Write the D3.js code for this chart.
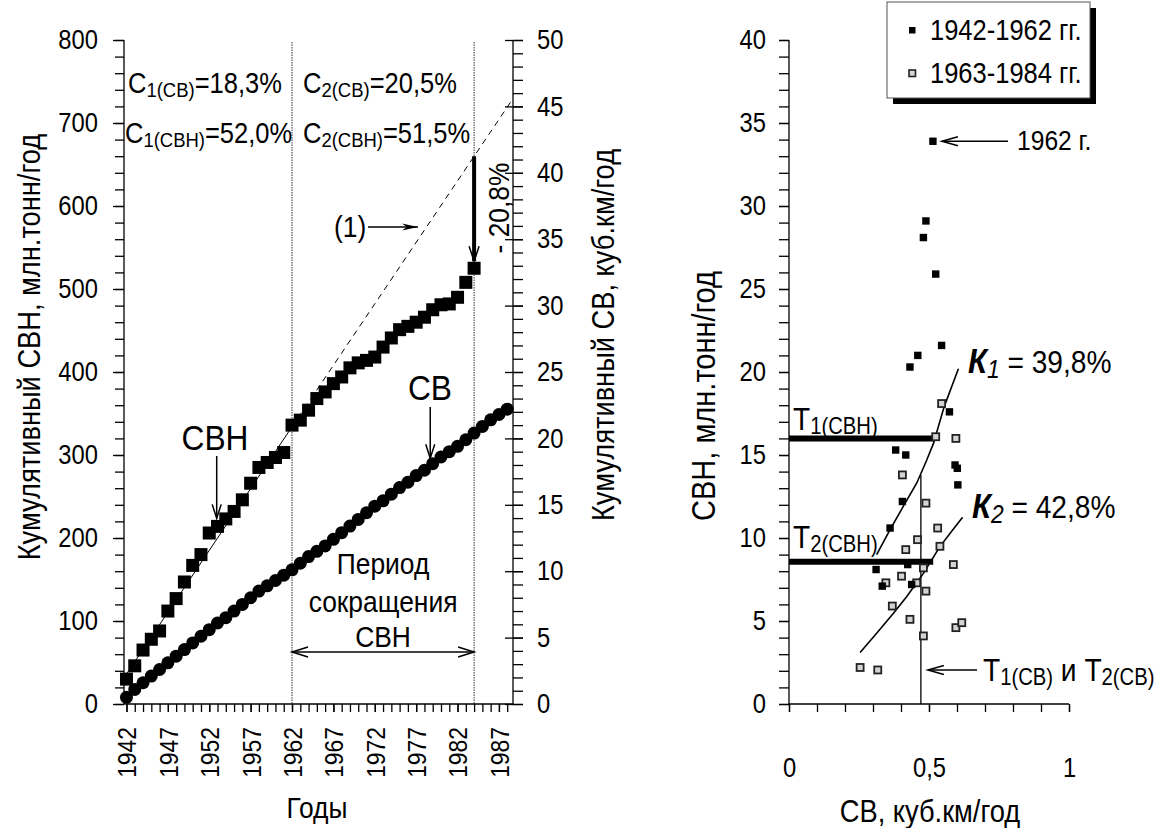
<!DOCTYPE html>
<html><head><meta charset="utf-8">
<script src="https://cdn.jsdelivr.net/npm/d3@7"></script>
<style>
body{margin:0;background:#fff}
svg text{font-family:"Liberation Sans Narrow","Arial Narrow","Liberation Sans",Arial,sans-serif;fill:#000}
</style></head><body>
<svg id="c" width="1170" height="828"></svg>
<script>
// ---------- DATA ----------
const yearsSVN = [1942,1943,1944,1945,1946,1947,1948,1949,1950,1951,1952,1953,1954,1955,1956,1957,1958,1959,1960,1961,1962,1963,1964,1965,1966,1967,1968,1969,1970,1971,1972,1973,1974,1975,1976,1977,1978,1979,1980,1981,1982,1983,1984];
const cumSVN = [30,46,65,78,88,112,127,147,167,180,206,214,223,232,246,266,285,291,297,303,336,342,354,368,376,386,394,405,411,414,418,430,441,451,455,460,466,475,481,482,490,508,525];
const yearsCB = [1942,1943,1944,1945,1946,1947,1948,1949,1950,1951,1952,1953,1954,1955,1956,1957,1958,1959,1960,1961,1962,1963,1964,1965,1966,1967,1968,1969,1970,1971,1972,1973,1974,1975,1976,1977,1978,1979,1980,1981,1982,1983,1984,1985,1986,1987,1988];
const cumCB = [0.5,1.1,1.6,2.1,2.6,3.1,3.6,4.1,4.6,5.1,5.6,6.1,6.5,7.0,7.5,8.0,8.5,8.9,9.3,9.7,10.1,10.6,11.1,11.5,11.9,12.4,12.9,13.4,13.9,14.4,14.9,15.3,15.8,16.3,16.7,17.2,17.6,18.1,18.6,19.0,19.4,19.9,20.4,20.9,21.4,21.8,22.2];
const trendFit = [[1942,36],[1962,334]];
const trendExt = [[1962,334],[1988.4,725]];
const periodYears = [1962,1984];
const leftTicks = [0,100,200,300,400,500,600,700,800];
const rightTicks = [0,5,10,15,20,25,30,35,40,45,50];
const yearTicks = [1942,1947,1952,1957,1962,1967,1972,1977,1982,1987];

const scatter1942 = [[0.514,33.9],[0.489,29.1],[0.480,28.1],[0.524,25.9],[0.545,21.6],[0.460,21.0],[0.432,20.3],[0.573,17.6],[0.381,15.3],[0.417,15.0],[0.593,14.4],[0.601,14.2],[0.603,13.2],[0.405,12.2],[0.361,10.6],[0.424,8.4],[0.311,8.1],[0.333,7.1],[0.438,7.2]];
const scatter1963 = [[0.545,18.1],[0.524,16.1],[0.596,16.0],[0.405,13.8],[0.489,12.1],[0.531,10.6],[0.539,9.5],[0.459,9.9],[0.417,9.3],[0.587,8.4],[0.480,8.2],[0.402,7.7],[0.346,7.3],[0.456,7.3],[0.489,6.8],[0.369,5.9],[0.432,5.1],[0.480,4.1],[0.596,4.6],[0.617,4.9],[0.254,2.2],[0.317,2.05]];
const k1Curve = [[0.313,9.0],[0.361,10.5],[0.408,11.9],[0.456,13.3],[0.492,14.7],[0.516,15.7],[0.554,17.9],[0.605,20.2]];
const k2Curve = [[0.254,3.1],[0.313,4.26],[0.373,5.46],[0.420,6.46],[0.480,7.87],[0.539,9.48],[0.581,10.4],[0.620,11.25]];
const t1SVN = 16.0, t2SVN = 8.57, tCB = 0.471, tCBtop = 13.8;
const sTicksY = [0,5,10,15,20,25,30,35,40];
const sTicksX = [0,0.5,1];

// ---------- SETUP ----------
const K = 0.88; // horizontal condensing (narrow type face look)
const svg = d3.select("#c");
const x  = d3.scaleLinear().domain([1941.7,1988.7]).range([124,513]);
const yL = d3.scaleLinear().domain([0,800]).range([704,40]);
const yR = d3.scaleLinear().domain([0,50]).range([704,40]);
const sx = d3.scaleLinear().domain([0,1]).range([789,1069]);
const sy = d3.scaleLinear().domain([0,40]).range([704,40]);
const fmtC = d => String(d).replace(".", ",");

function styleAxis(g, fs){
  g.attr("font-family", null).attr("font-size", fs);
  g.selectAll("line").attr("stroke","#000").attr("stroke-width",1.3);
  g.selectAll("path.domain").remove();
}
function vline(xp,y1,y2,w){svg.append("line").attr("x1",xp).attr("x2",xp).attr("y1",y1).attr("y2",y2).attr("stroke","#000").attr("stroke-width",w||1.3);}
function hline(y,x1,x2,w){svg.append("line").attr("x1",x1).attr("x2",x2).attr("y1",y).attr("y2",y).attr("stroke","#000").attr("stroke-width",w||1.3);}
function arrow(x1,y1,x2,y2,opt){
  opt = opt||{};
  const w = opt.w||1.5, L = opt.L||14, W = opt.W||4.5;
  const g = svg.append("g");
  g.append("line").attr("x1",x1).attr("y1",y1).attr("x2",x2).attr("y2",y2).attr("stroke","#000").attr("stroke-width",w);
  const heads = opt.both ? [[x2,y2,x1,y1],[x1,y1,x2,y2]] : [[x1,y1,x2,y2]];
  heads.forEach(([ax,ay,bx,by])=>{
    const a = Math.atan2(by-ay,bx-ax), c=Math.cos(a), s=Math.sin(a);
    const p1=[bx-L*c+W*s, by-L*s-W*c], p2=[bx-L*c-W*s, by-L*s+W*c];
    if(opt.filled){
      const m=[bx-0.7*L*c, by-0.7*L*s];
      g.append("path").attr("d",`M${bx},${by}L${p1}L${m}L${p2}Z`).attr("fill","#000");
    } else {
      g.append("path").attr("d",`M${p1}L${bx},${by}L${p2}`).attr("fill","none").attr("stroke","#000").attr("stroke-width",1.5);
    }
  });
}
function subText(xp,y,parts,anchor){
  const t = svg.append("text").attr("x",xp).attr("y",y).attr("text-anchor",anchor||"start");
  parts.forEach(p=>{
    const ts = t.append("tspan").text(p.t).attr("font-size",p.fs);
    if(p.dy) ts.attr("dy",p.dy);
    if(p.it) ts.attr("font-style","italic");
    if(p.b) ts.attr("font-weight","bold");
  });
  return t;
}
function label(xp,y,txt,fs,anchor){
  return svg.append("text").attr("x",xp).attr("y",y).attr("text-anchor",anchor||"start").attr("font-size",fs).text(txt);
}
function rlabel(xp,y,txt,fs){
  return svg.append("text").attr("transform",`translate(${xp},${y}) rotate(-90)`).attr("text-anchor","middle").attr("font-size",fs).text(txt);
}

// ---------- LEFT CHART ----------
periodYears.forEach(yr=>{
  svg.append("line").attr("x1",x(yr)).attr("x2",x(yr)).attr("y1",42).attr("y2",704)
    .attr("stroke","#333").attr("stroke-width",1).attr("stroke-dasharray","1.5,1");
});
svg.append("g").attr("transform","translate(124,0)")
  .call(d3.axisLeft(yL).tickValues(d3.range(0,801,20)).tickSize(9).tickFormat(""))
  .call(g=>styleAxis(g,0));
svg.append("g").attr("transform","translate(124,0)")
  .call(d3.axisLeft(yL).tickValues(leftTicks).tickSize(11).tickPadding(15))
  .call(g=>styleAxis(g,27));
vline(124,40,704);
svg.append("g").attr("transform","translate(513,0)")
  .call(d3.axisRight(yR).tickValues(d3.range(0,51,1)).tickSize(10).tickFormat(""))
  .call(g=>styleAxis(g,0));
svg.append("g").attr("transform","translate(513,0)")
  .call(d3.axisRight(yR).tickValues(rightTicks).tickSize(10).tickPadding(14))
  .call(g=>{styleAxis(g,27); g.selectAll(".tick line").attr("x1",-8);});
vline(513,40,704);
svg.append("g").attr("transform","translate(0,704)")
  .call(d3.axisBottom(x).tickValues(d3.range(1942,1989,1)).tickSize(8).tickFormat(""))
  .call(g=>styleAxis(g,0));
svg.append("g").attr("transform","translate(0,704)")
  .call(d3.axisBottom(x).tickValues(yearTicks).tickSize(8).tickFormat(d3.format("d")))
  .call(g=>{styleAxis(g,26);
    g.selectAll("text").attr("transform","rotate(-90)").attr("text-anchor","end")
     .attr("x",-23).attr("y",0).attr("dy","0.36em");});
hline(704,124,513);

const lineL = d3.line().x(d=>x(d[0])).y(d=>yL(d[1]));
svg.append("path").attr("d",lineL(trendFit)).attr("fill","none").attr("stroke","#000").attr("stroke-width",1);
svg.append("path").attr("d",lineL(trendExt)).attr("fill","none").attr("stroke","#000").attr("stroke-width",1).attr("stroke-dasharray","6,5");

svg.append("g").selectAll("circle").data(yearsCB.map((yr,i)=>[yr,cumCB[i]])).join("circle")
  .attr("cx",d=>x(d[0])).attr("cy",d=>yR(d[1])).attr("r",6.5).attr("fill","#000");
svg.append("g").selectAll("rect").data(yearsSVN.map((yr,i)=>[yr,cumSVN[i]])).join("rect")
  .attr("x",d=>x(d[0])-6.5).attr("y",d=>yL(d[1])-6.5).attr("width",13).attr("height",13).attr("fill","#000");

subText(128,93,[{t:"С",fs:29},{t:"1(СВ)",fs:21,dy:4},{t:"=18,3%",fs:29,dy:-4}]);
subText(125,143,[{t:"С",fs:29},{t:"1(СВН)",fs:21,dy:4},{t:"=52,0%",fs:29,dy:-4}]);
subText(303,93,[{t:"С",fs:29},{t:"2(СВ)",fs:21,dy:4},{t:"=20,5%",fs:29,dy:-4}]);
subText(303,143,[{t:"С",fs:29},{t:"2(СВН)",fs:21,dy:4},{t:"=51,5%",fs:29,dy:-4}]);

label(334,237,"(1)",30);
arrow(368,227,418,227,{filled:true,L:16,W:3.5});

const y84top = yL(660), y84sq = yL(cumSVN[cumSVN.length-1]) - 7;
arrow(x(1984),y84top,x(1984),y84sq,{w:4,L:15,W:5});
rlabel(509,208,"- 20,8%",30);

label(215,450,"СВН",36,"middle");
arrow(x(1952.9),456,x(1952.9),yL(214)-8);
label(430,400,"СВ",36,"middle");
arrow(x(1978.7),407,x(1978.7),yR(17.9)-8);

const pc = (x(1962)+x(1984))/2;
label(pc,574,"Период",30,"middle");
label(pc,612,"сокращения",30,"middle");
label(pc,647,"СВН",30,"middle");
arrow(x(1962),652,x(1984),652,{both:true,L:16,W:5});

rlabel(40,347,"Кумулятивный СВН, млн.тонн/год",31);
rlabel(614,335,"Кумулятивный СВ, куб.км/год",31);
label(317,818,"Годы",30,"middle");

// ---------- RIGHT CHART ----------
svg.append("g").attr("transform","translate(789,0)")
  .call(d3.axisLeft(sy).tickValues(d3.range(0,41,1)).tickSize(10).tickFormat(""))
  .call(g=>styleAxis(g,0));
svg.append("g").attr("transform","translate(789,0)")
  .call(d3.axisLeft(sy).tickValues(sTicksY).tickSize(10).tickPadding(13))
  .call(g=>styleAxis(g,27));
vline(789,40,704);
svg.append("g").attr("transform","translate(0,704)")
  .call(d3.axisBottom(sx).tickValues(d3.range(0,11,1).map(d=>d/10)).tickSize(8).tickFormat(""))
  .call(g=>styleAxis(g,0));
svg.append("g").attr("transform","translate(0,704)")
  .call(d3.axisBottom(sx).tickValues(sTicksX).tickSize(8).tickPadding(46).tickFormat(fmtC))
  .call(g=>styleAxis(g,27));
hline(704,789,1069);

svg.append("line").attr("x1",sx(0)).attr("x2",sx(0.521)).attr("y1",sy(t1SVN)).attr("y2",sy(t1SVN)).attr("stroke","#000").attr("stroke-width",6);
svg.append("line").attr("x1",sx(0)).attr("x2",sx(0.515)).attr("y1",sy(t2SVN)).attr("y2",sy(t2SVN)).attr("stroke","#000").attr("stroke-width",6);
svg.append("line").attr("x1",sx(tCB)).attr("x2",sx(tCB)).attr("y1",sy(tCBtop)).attr("y2",sy(0)).attr("stroke","#000").attr("stroke-width",1.3);

const lineS = d3.line().x(d=>sx(d[0])).y(d=>sy(d[1]));
svg.append("path").attr("d",lineS(k1Curve)).attr("fill","none").attr("stroke","#000").attr("stroke-width",1.6);
svg.append("path").attr("d",lineS(k2Curve)).attr("fill","none").attr("stroke","#000").attr("stroke-width",1.6);

svg.append("g").selectAll("rect").data(scatter1963).join("rect")
  .attr("x",d=>sx(d[0])-3.5).attr("y",d=>sy(d[1])-3.5).attr("width",7).attr("height",7)
  .attr("fill","#d4d4d4").attr("stroke","#222").attr("stroke-width",1.8);
svg.append("g").selectAll("rect").data(scatter1942).join("rect")
  .attr("x",d=>sx(d[0])-3.7).attr("y",d=>sy(d[1])-3.7).attr("width",7.4).attr("height",7.4).attr("fill","#000");

subText(793,430,[{t:"Т",fs:32},{t:"1(СВН)",fs:23,dy:4}]);
subText(793,548,[{t:"Т",fs:32},{t:"2(СВН)",fs:23,dy:4}]);
subText(968,373,[{t:"К",fs:35,it:true,b:true},{t:"1",fs:26,it:true,dy:5},{t:" = 39,8%",fs:32,dy:-5}]);
subText(972,518,[{t:"К",fs:35,it:true,b:true},{t:"2",fs:26,it:true,dy:5},{t:" = 42,8%",fs:32,dy:-5}]);
subText(983,681,[{t:"Т",fs:32},{t:"1(СВ)",fs:23,dy:4},{t:" и Т",fs:32,dy:-4},{t:"2(СВ)",fs:23,dy:4}]);
arrow(977,670,sx(tCB)+7,670,{L:16,W:4.5});
label(1017,150,"1962 г.",28);
arrow(1008,sy(33.9),sx(0.514)+9,sy(33.9),{L:16,W:4.5});

rlabel(715,396,"СВН, млн.тонн/год",33);
label(930,822,"СВ, куб.км/год",31,"middle");

const lg = svg.append("g");
lg.append("rect").attr("x",893).attr("y",8).attr("width",203).attr("height",96).attr("fill","#000");
lg.append("rect").attr("x",887).attr("y",2).attr("width",203).attr("height",96).attr("fill","#fff").attr("stroke","#555").attr("stroke-width",1);
lg.append("rect").attr("x",909).attr("y",27).attr("width",6.5).attr("height",6.5).attr("fill","#000");
lg.append("rect").attr("x",909).attr("y",70).attr("width",6.5).attr("height",6.5).attr("fill","#d4d4d4").attr("stroke","#222").attr("stroke-width",1.6);
lg.append("text").attr("x",930).attr("y",40).attr("font-size",29).text("1942-1962 гг.");
lg.append("text").attr("x",930).attr("y",83).attr("font-size",29).text("1963-1984 гг.");

// condense all texts horizontally (narrow face look), keeping anchor positions
svg.selectAll("text").each(function(){
  const t = d3.select(this);
  const xv = +(t.attr("x")||0);
  t.attr("x", xv/K);
  const tr = t.attr("transform")||"";
  t.attr("transform", (tr+` scale(${K},1)`).trim());
});
</script></body></html>
